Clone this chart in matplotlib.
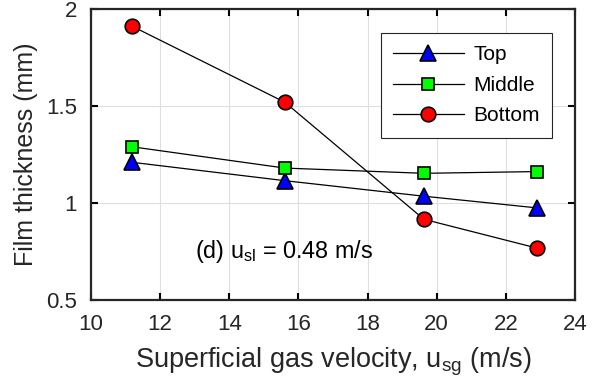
import matplotlib.pyplot as plt

plt.rcParams['font.family'] = ['Liberation Sans', 'DejaVu Sans']

# data
usg = [11.18, 15.61, 19.63, 22.89]
top = [1.21, 1.115, 1.035, 0.975]
middle = [1.29, 1.18, 1.153, 1.162]
bottom = [1.912, 1.519, 0.916, 0.768]

fig = plt.figure(figsize=(5.97, 3.89), dpi=100)
ax = fig.add_axes([91/597, 1 - 300/389, 484/597, 291/389])

ax.plot(usg, top, '-', color='k', lw=0.9, marker='^', ms=11, mfc='#0000ff', mec='k', mew=1.2, label='Top')
ax.plot(usg, middle, '-', color='k', lw=0.9, marker='s', ms=8.5, mfc='#00ff00', mec='k', mew=1.2, label='Middle')
ax.plot(usg, bottom, '-', color='k', lw=0.9, marker='o', ms=10.5, mfc='#ff0000', mec='k', mew=1.2, label='Bottom')

ax.set_xlim(10, 24)
ax.set_ylim(0.5, 2)
ax.set_xticks([10, 12, 14, 16, 18, 20, 22, 24])
ax.set_yticks([0.5, 1, 1.5, 2])
ax.set_yticklabels(['0.5', '1', '1.5', '2'])
ax.grid(True, color='#dfdfdf', lw=0.8)
ax.set_axisbelow(True)
ax.tick_params(direction='in', top=True, right=True, length=5, width=1.5,
               labelsize=16, labelcolor='#262626', pad=10)
for s in ax.spines.values():
    s.set_linewidth(1.6)
    s.set_color('#262626')

ax.set_xlabel('Superficial gas velocity, u$_{\\mathregular{sg}}$ (m/s)', fontsize=19.5, color='#262626', labelpad=8)
ax.set_ylabel('Film thickness (mm)', fontsize=18, color='#262626', labelpad=6)

ax.text(0.215, 0.144, '(d) u$_{\\mathregular{sl}}$ = 0.48 m/s', transform=ax.transAxes,
        fontsize=16.8, va='baseline')

leg = ax.legend(loc='upper right', bbox_to_anchor=(0.953, 0.918), fontsize=15, fancybox=False,
                framealpha=1, edgecolor='#262626', handlelength=3.4, borderpad=0.6,
                labelspacing=0.55, handletextpad=0.45, borderaxespad=0)
leg.get_frame().set_linewidth(0.8)

fig.savefig('out.png', dpi=100)
